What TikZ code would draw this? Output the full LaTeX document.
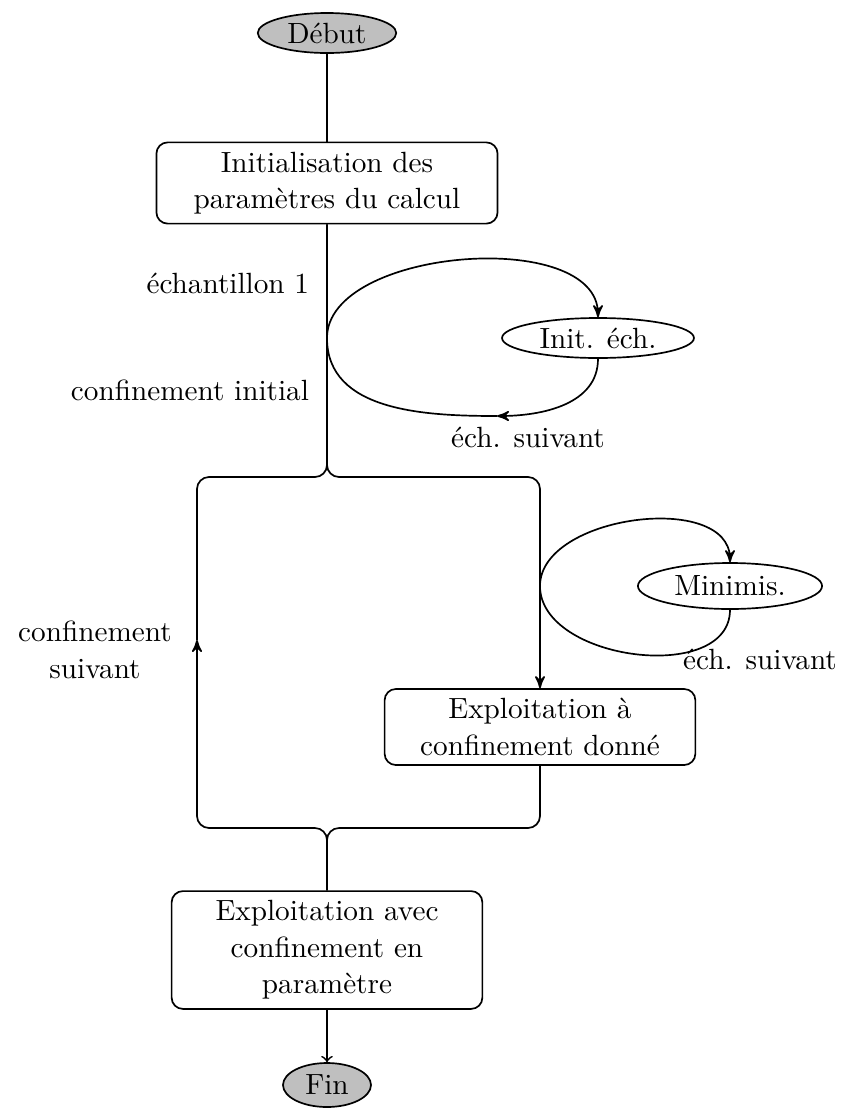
\documentclass[tikz,border=0pt]{standalone}
\usetikzlibrary{arrows,shapes.geometric}

\begin{document}
\begin{tikzpicture}[>=stealth',semithick,font=\fontsize{10.4pt}{13pt}\selectfont,
    etape/.style={draw,rounded corners,align=center,text width=3.65cm},
    terme/.style={draw,ellipse,fill=gray!50,inner ysep=0pt},
    sousetape/.style={draw,ellipse,inner ysep=0pt}]
                \useasboundingbox (0,0) rectangle (10.5875,-13.9375);
                \node[terme,minimum height=0.5cm] (debut) at (4.0875,-0.4125) {Début};
                \node[etape,text width=4.03cm] (init) at (4.0875,-2.2875) {Initialisation des\\paramètres du calcul};
                \node[sousetape,minimum height=0.5cm] (initech) at (7.475,-4.225) {Init. éch.};
                \node[sousetape,minimum height=0.575cm] (minimis) at (9.125,-7.325) {Minimis.};
                \node[etape] (exploc) at (6.75,-9.0875) {Exploitation à\\confinement donné};
                \node[etape] (explo) at (4.0875,-11.875) {Exploitation avec\\confinement en\\paramètre};
                \node[terme,minimum height=0.55cm] (fin) at (4.0875,-13.5625) {Fin};
                % etiquettes
                \node[anchor=east] (ech1) at (3.99,-3.5375) {échantillon 1};
                \node[anchor=east] (confinit) at (3.99,-4.875) {confinement initial};
                \node (suiv1) at (6.6,-5.4625) {éch. suivant};
                \node (suiv2) at (9.5,-8.2375) {éch. suivant};
                \node[align=center] (confsuiv) at (1.1875,-8.125) {confinement\\suivant};
                % points du cadre
                \coordinate (haut) at (4.0875,-5.9625);
                \coordinate (bas) at (4.0875,-10.35);
                \coordinate (gauche) at (2.4625,-8);
                \coordinate (retour) at (6.2125,-5.2);
                \draw (debut) -- (init);
                \draw[rounded corners=0.15cm] (init.south) -- (haut) -| (gauche);
                \draw[->,rounded corners=0.15cm] (init.south) -- (haut) -| (exploc.north);
                \draw[->,rounded corners=0.15cm] (explo.north) -- (bas) -| (gauche);
                \draw[rounded corners=0.15cm] (exploc.south) |- (bas) -- (explo.north);
                \draw[-to] (explo) -- (fin);
                % boucle sur les echantillons
                \draw[->] (init.south |- initech) to[out=90,in=90,looseness=0.85] (initech.north);
                \draw[->] (initech.south) to[out=-90,in=0] (retour);
                \draw (retour) to[out=180,in=-90] (init.south |- initech);
                % boucle de minimisation
                \draw[->] (exploc.north |- minimis) to[out=90,in=90,looseness=0.95] (minimis.north);
                \draw (minimis.south) to[out=-90,in=-90] (exploc.north |- minimis);
            \end{tikzpicture}
\end{document}
